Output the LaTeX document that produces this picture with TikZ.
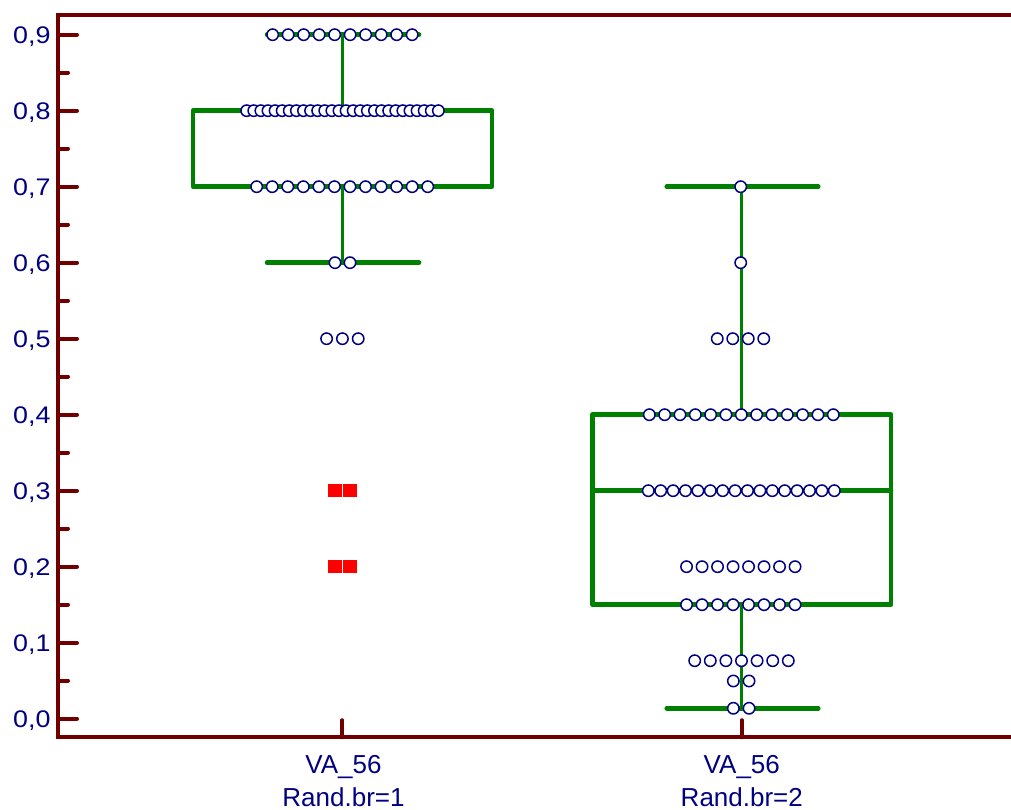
\documentclass[tikz,border=0pt]{standalone}
\usepackage{fontspec}
\setmainfont{Liberation Sans}
\newfontfamily\tickfont[FakeStretch=1.12]{Liberation Sans}
\usetikzlibrary{positioning}
\definecolor{axisred}{RGB}{112,0,0}
\definecolor{labelblue}{RGB}{0,0,128}
\definecolor{boxgreen}{RGB}{0,128,0}

\begin{document}
\begin{tikzpicture}[x=1pt, y=1pt,
    axisline/.style={axisred, line width=4pt},
    tickmark/.style={axisred, line width=4pt, line cap=round},
    boxline/.style={boxgreen, line width=4.5pt, line join=round, line cap=round},
    whisker/.style={boxgreen, line width=3.4pt},
    obsdot/.style={circle, draw=labelblue, fill=white, line width=1.5pt, minimum size=11.4pt, inner sep=0pt},
    outlier/.style={rectangle, fill=red, minimum size=13.6pt, inner sep=0pt},
    ticklabel/.style={anchor=base east, inner sep=0pt, yshift=-8.6pt, text=labelblue, font=\tickfont\fontsize{24}{28}\selectfont},
    catlabel/.style={anchor=base, inner sep=0pt, text=labelblue, font=\fontsize{26}{34}\selectfont}]
    \useasboundingbox (0,0) rectangle (1011,810);

    \begin{scope}[shift={(0,91.3)}, y=760pt]
    % Axes
    \draw[axisline] (1011,0.9259) -- (58.3,0.9259) -- (58.3,-0.0245) -- (1011,-0.0245);

    % Ticks and labels
    \foreach \i in {0,...,9} {
        \draw[tickmark] (58.3,\i/10) -- (77,\i/10);
        \node[ticklabel] (ylab\i) at (50.7,\i/10) {0,\i};
    }
    \foreach \i in {0,...,8}
        \draw[tickmark] (58.3,\i/10+0.05) -- (68,\i/10+0.05);

    \draw[tickmark] (342.3,-0.0245) -- (342.3,-0.002);
    \draw[tickmark] (741.7,-0.0245) -- (741.7,-0.002);
    \node[catlabel] (cat1) at (343.5,-0.0718) {VA\_56};
    \node[catlabel] (grp1) at (343.5,-0.1155) {Rand.br=1};
    \node[catlabel] (cat2) at (741.8,-0.0718) {VA\_56};
    \node[catlabel] (grp2) at (741.8,-0.1155) {Rand.br=2};

    % Box 1
    \draw[boxline] (193,0.7) rectangle (492,0.8);
    \draw[whisker] (342.3,0.8) -- (342.3,0.9);
    \draw[whisker] (342.3,0.7) -- (342.3,0.6);
    \draw[boxline] (267,0.9) -- (419,0.9);
    \draw[boxline] (267,0.6) -- (419,0.6);

    % Box 2
    \draw[boxline] (592.3,0.15) rectangle (891,0.4);
    \draw[boxline] (592.3,0.3) -- (891,0.3);
    \draw[whisker] (741.7,0.4) -- (741.7,0.7);
    \draw[whisker] (741.7,0.15) -- (741.7,0.0137);
    \draw[boxline] (666.7,0.7) -- (818.3,0.7);
    \draw[boxline] (666.7,0.0137) -- (818.3,0.0137);

    % Observations
    \foreach \cx/\v/\n/\dx/\tag in {342.4/0.9/10/15.5/a, 342.5/0.8/28/7.1/b,
        342.2/0.7/12/15.55/c, 342.5/0.6/2/15/d, 342.4/0.5/3/15.8/e,
        740.7/0.7/1/0/f, 740.7/0.6/1/0/g, 740.5/0.5/4/15.5/h,
        741.3/0.4/13/15.33/i, 741.3/0.3/16/12.4/j, 740.8/0.2/8/15.5/k,
        740.8/0.15/8/15.5/l, 741.5/0.0763/7/15.6/m, 741.2/0.0496/2/15.7/n,
        741.2/0.0137/2/15.7/p} {
        \foreach \k in {1,...,\n}
            \node[obsdot] (obs-\tag-\k) at ({\cx+(\k-(\n+1)/2)*\dx},\v) {};
    }

    % Outliers
    \node[outlier] (out1) at (335.2,0.3) {};
    \node[outlier] (out2) at (349.8,0.3) {};
    \node[outlier] (out3) at (335.2,0.2) {};
    \node[outlier] (out4) at (349.8,0.2) {};
    \end{scope}
\end{tikzpicture}
\end{document}
